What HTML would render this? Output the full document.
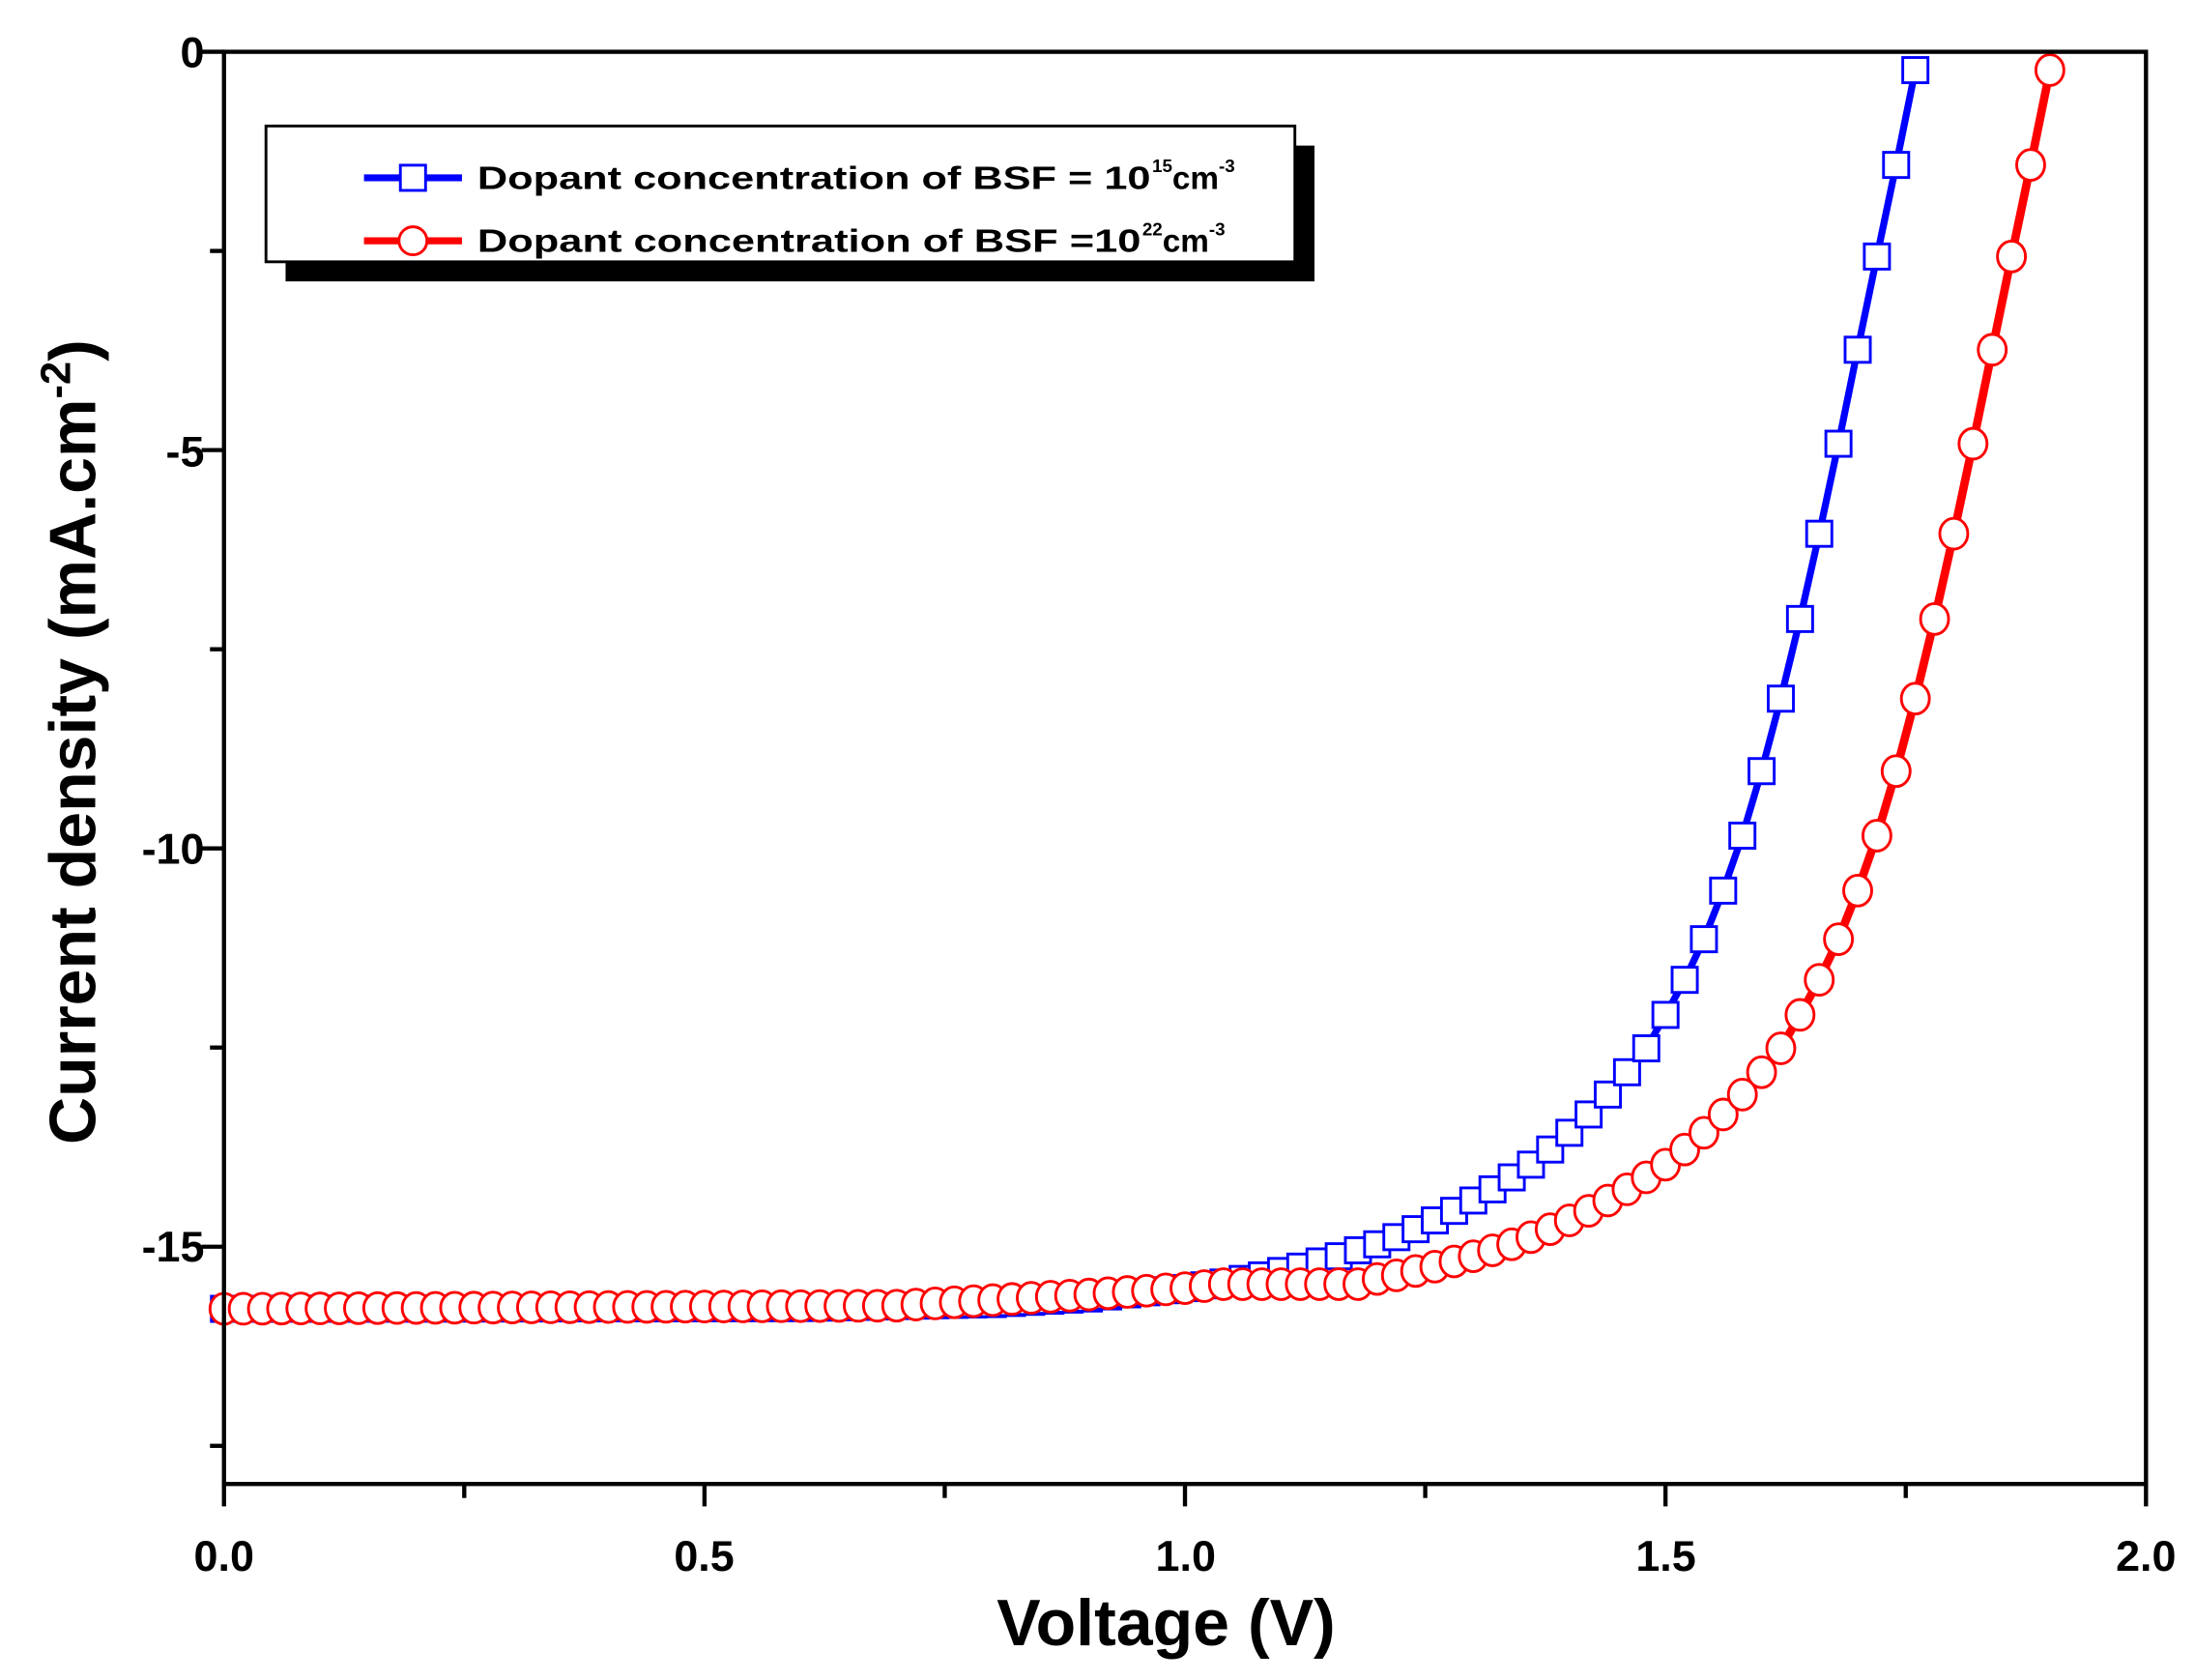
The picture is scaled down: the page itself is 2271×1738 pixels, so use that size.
<!DOCTYPE html>
<html><head><meta charset="utf-8"><style>
html,body{margin:0;padding:0;background:#fff;}
svg{display:block;}
text{font-family:"Liberation Sans",Arial,sans-serif;font-weight:bold;}
</style></head><body>
<svg id="s" width="2271" height="1738" viewBox="0 0 1568 1200" xmlns="http://www.w3.org/2000/svg">
<rect width="1568" height="1200" fill="#fff"/>
<g id="data"></g>
<rect x="160" y="37" width="1373" height="1023" fill="none" stroke="#000" stroke-width="3"/>
<g stroke="#000" stroke-width="3" id="ticks"></g>
<g font-size="31" fill="#000" text-anchor="end">
<text x="146" y="48">0</text>
<text x="146" y="333">-5</text>
<text x="146" y="617">-10</text>
<text x="146" y="901">-15</text>
</g>
<g font-size="31" fill="#000" text-anchor="middle">
<text x="160" y="1122">0.0</text>
<text x="503" y="1122">0.5</text>
<text x="847" y="1122">1.0</text>
<text x="1190" y="1122">1.5</text>
<text x="1533" y="1122">2.0</text>
</g>
<text x="833" y="1175" font-size="47" text-anchor="middle">Voltage (V)</text>
<text transform="translate(68,530) rotate(-90)" font-size="47" text-anchor="middle">Current density (mA.cm<tspan font-size="30" dy="-18">-2</tspan><tspan dy="18">)</tspan></text>
<rect x="204" y="104" width="735" height="97" fill="#000"/>
<rect x="190" y="90" width="735" height="97" fill="#fff" stroke="#000" stroke-width="2"/>
<line x1="260" y1="127" x2="330" y2="127" stroke="#0000ff" stroke-width="5"/>
<rect x="286" y="118" width="18" height="18" fill="#fff" stroke="#0000ff" stroke-width="2"/>
<line x1="260" y1="172" x2="330" y2="172" stroke="#ff0000" stroke-width="5"/>
<circle cx="295" cy="172" r="10" fill="#fff" stroke="#ff0000" stroke-width="2"/>
<text x="341" y="135" font-size="23" fill="#000" textLength="481" lengthAdjust="spacingAndGlyphs">Dopant concentration of BSF = 10</text>
<text x="823" y="135" font-size="23" fill="#000"><tspan font-size="13" dy="-12">15</tspan><tspan dy="12">cm</tspan><tspan font-size="13" dy="-12">-3</tspan></text>
<text x="341" y="180" font-size="23" fill="#000" textLength="474" lengthAdjust="spacingAndGlyphs">Dopant concentration of BSF =10</text>
<text x="816" y="180" font-size="23" fill="#000"><tspan font-size="13" dy="-12">22</tspan><tspan dy="12">cm</tspan><tspan font-size="13" dy="-12">-3</tspan></text>
</svg>
<script>
var NS="http://www.w3.org/2000/svg";
function X(v){return 160+v*686.5;}
function Y(j){return 37-j*56.9;}
var tk=document.getElementById('ticks');
function ln(x1,y1,x2,y2){var l=document.createElementNS(NS,'line');l.setAttribute('x1',x1);l.setAttribute('y1',y1);l.setAttribute('x2',x2);l.setAttribute('y2',y2);tk.appendChild(l);}
for(var i=0;i<=8;i++){var x=X(i*0.25);ln(x,1060,x,1060+(i%2?10:16));}
for(var i=0;i<=7;i++){var y=Y(-i*2.5);ln(160,y,160-(i%2?10:16),y);}
var A=[[0,-15.78],[0.6,-15.77],[0.8,-15.72],[0.9,-15.65],[1.0,-15.52],[1.04,-15.45],[1.08,-15.36],[1.12,-15.25],[1.16,-15.12],[1.2,-14.97],[1.22,-14.88],[1.24,-14.78],[1.26,-14.67],[1.28,-14.55],[1.3,-14.42],[1.32,-14.28],[1.34,-14.13],[1.36,-13.97],[1.38,-13.78],[1.4,-13.57],[1.42,-13.34],[1.44,-13.09],[1.46,-12.81],[1.48,-12.51],[1.5,-12.09],[1.52,-11.65],[1.54,-11.14],[1.56,-10.53],[1.58,-9.84],[1.6,-9.03],[1.62,-8.12],[1.64,-7.12],[1.66,-6.05],[1.68,-4.92],[1.7,-3.74],[1.72,-2.57],[1.74,-1.42],[1.76,-0.23]];
function interp(P,v){if(v<=P[0][0])return P[0][1];for(var i=1;i<P.length;i++){if(v<=P[i][0]+1e-9){var a=P[i-1],b=P[i];return a[1]+(b[1]-a[1])*(v-a[0])/(b[0]-a[0]);}}return P[P.length-1][1];}
function blue(v){return interp(A,v);}
var R=[[0,-15.78],[0.7,-15.74],[0.9,-15.6],[1.0,-15.52],[1.04,-15.47],[1.18,-15.47]];
function red(v){if(v>=1.195)return blue(v-0.14);return interp(R,v);}
var g=document.getElementById('data');
function series(f,vmax,col,shape,lw){
 var pts=[];for(var k=0;k<=Math.round(vmax/0.02);k++){var v=k*0.02;pts.push([X(v),Y(f(v))]);}
 var p=document.createElementNS(NS,'polyline');p.setAttribute('points',pts.map(function(q){return q[0].toFixed(1)+','+q[1].toFixed(1);}).join(' '));
 p.setAttribute('fill','none');p.setAttribute('stroke',col);p.setAttribute('stroke-width',lw);g.appendChild(p);
 pts.forEach(function(q){var m;
  if(shape=='s'){m=document.createElementNS(NS,'rect');m.setAttribute('x',q[0]-9);m.setAttribute('y',q[1]-9);m.setAttribute('width',18);m.setAttribute('height',18);}
  else{m=document.createElementNS(NS,'ellipse');m.setAttribute('cx',q[0]);m.setAttribute('cy',q[1]);m.setAttribute('rx',10);m.setAttribute('ry',11);}
  m.setAttribute('fill','#fff');m.setAttribute('stroke',col);m.setAttribute('stroke-width','2');g.appendChild(m);});
}
series(blue,1.76,'#0000ff','s',5);
series(red,1.90,'#ff0000','c',6);
</script>
</body></html>
